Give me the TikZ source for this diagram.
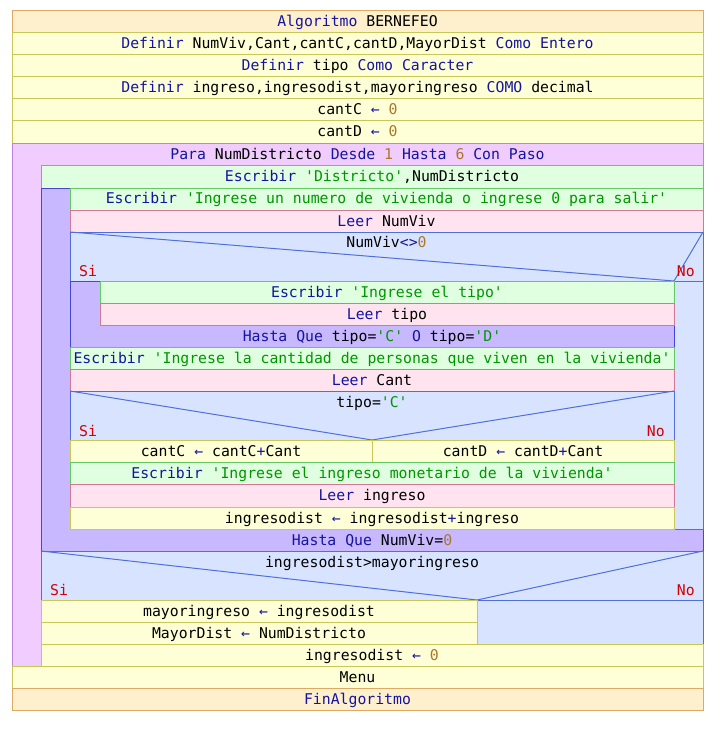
\documentclass[tikz,border=0pt]{standalone}
\usepackage{fontspec}
\newfontfamily\psfont{DejaVu Sans Mono}

\definecolor{fondoIni}{RGB}{255,240,205}
\definecolor{bordeIni}{RGB}{220,170,100}
\definecolor{fondoAsig}{RGB}{255,255,215}
\definecolor{bordeAsig}{RGB}{200,200,90}
\definecolor{fondoPara}{RGB}{240,204,255}
\definecolor{bordePara}{RGB}{190,130,225}
\definecolor{fondoEsc}{RGB}{224,255,224}
\definecolor{bordeEsc}{RGB}{100,200,100}
\definecolor{fondoLeer}{RGB}{255,228,240}
\definecolor{bordeLeer}{RGB}{210,120,150}
\definecolor{fondoRep}{RGB}{200,184,255}
\definecolor{bordeRep}{RGB}{70,70,210}
\definecolor{fondoSi}{RGB}{216,228,255}
\definecolor{bordeSi}{RGB}{80,110,220}
\definecolor{clave}{RGB}{20,20,160}
\definecolor{numero}{RGB}{170,120,40}
\definecolor{cadena}{RGB}{0,150,0}
\definecolor{rojoSiNo}{RGB}{210,0,0}

\newcommand{\pc}[1]{\textcolor{clave}{#1}}
\newcommand{\nume}[1]{\textcolor{numero}{#1}}
\newcommand{\cad}[1]{\textcolor{cadena}{#1}}

\tikzset{
  caja/.style={line width=1pt},
  inicio/.style={caja, draw=bordeIni, fill=fondoIni},
  asig/.style={caja, draw=bordeAsig, fill=fondoAsig},
  para/.style={caja, draw=bordePara, fill=fondoPara},
  escribir/.style={caja, draw=bordeEsc, fill=fondoEsc},
  leer/.style={caja, draw=bordeLeer, fill=fondoLeer},
  repetir/.style={caja, draw=bordeRep, fill=fondoRep},
  si/.style={caja, draw=bordeSi, fill=fondoSi},
  diag/.style={caja, draw=bordeSi},
  texto/.style={anchor=base, inner sep=0pt, font=\psfont\fontsize{14.8}{18}\selectfont},
  rama/.style={texto, text=rojoSiNo},
}

% name, style, x1, y1, x2, y2, text
\newcommand{\fila}[7]{%
  \draw[#2] (#3,#4) rectangle (#5,#6);
  \node[texto] (#1) at ({(#3+#5)/2},{#4+16}) {#7};
}

\begin{document}
\begin{tikzpicture}[x=1pt,y=-1pt]
\useasboundingbox (0,0) rectangle (723,730);
% Encabezado
\fila{alg}{inicio}{12}{11}{703}{33}{\pc{Algoritmo} BERNEFEO}
\fila{def1}{asig}{12}{33}{703}{55}{\pc{Definir} NumViv,Cant,cantC,cantD,MayorDist \pc{Como Entero}}
\fila{def2}{asig}{12}{55}{703}{77}{\pc{Definir} tipo \pc{Como Caracter}}
\fila{def3}{asig}{12}{77}{703}{99}{\pc{Definir} ingreso,ingresodist,mayoringreso \pc{COMO} decimal}
\fila{ini1}{asig}{12}{99}{703}{121}{cantC \pc{←} \nume{0}}
\fila{ini2}{asig}{12}{121}{703}{144}{cantD \pc{←} \nume{0}}
% Para
\draw[para] (12,144) rectangle (703,666);
\node[texto] (para) at (357.5,160) {\pc{Para} NumDistricto \pc{Desde} \nume{1} \pc{Hasta} \nume{6} \pc{Con Paso}};
\fila{esc1}{escribir}{41}{166}{703}{188}{\pc{Escribir} \cad{'Districto'},NumDistricto}
% Repetir exterior
\draw[repetir] (41,188) rectangle (703,551);
\node[texto] (hasta1) at (372,545) {\pc{Hasta Que} NumViv=\nume{0}};
\fila{esc2}{escribir}{70}{188}{703}{210}{\pc{Escribir} \cad{'Ingrese un numero de vivienda o ingrese 0 para salir'}}
\fila{leer1}{leer}{70}{210}{703}{232}{\pc{Leer} NumViv}
% Si NumViv<>0
\draw[si] (70,232) rectangle (703,529);
\draw[diag] (70,232) -- (674,281) -- (703,232);
\draw[diag] (70,281) -- (703,281);
\node[texto] (cond1) at (386.5,247) {NumViv\pc{<>}\nume{0}};
\node[rama, anchor=base west] (si1) at (79,276) {Si};
\node[rama, anchor=base east] (no1) at (695,276) {No};
% Repetir interior
\draw[repetir] (70,281) rectangle (674,347);
\node[texto] (hasta2) at (372,341) {\pc{Hasta Que} tipo=\cad{'C'} \pc{O} tipo=\cad{'D'}};
\fila{esc3}{escribir}{100}{281}{674}{303}{\pc{Escribir} \cad{'Ingrese el tipo'}}
\fila{leer2}{leer}{100}{303}{674}{325}{\pc{Leer} tipo}
\fila{esc4}{escribir}{70}{347}{674}{369}{\pc{Escribir} \cad{'Ingrese la cantidad de personas que viven en la vivienda'}}
\fila{leer3}{leer}{70}{369}{674}{391}{\pc{Leer} Cant}
% Si tipo='C'
\draw[si] (70,391) rectangle (674,440);
\draw[diag] (70,391) -- (372,440) -- (674,391);
\node[texto] (cond2) at (372,407) {tipo=\cad{'C'}};
\node[rama, anchor=base west] (si2) at (79,436) {Si};
\node[rama, anchor=base east] (no2) at (665,436) {No};
\fila{sumC}{asig}{70}{440}{372}{462}{cantC \pc{←} cantC\pc{+}Cant}
\fila{sumD}{asig}{372}{440}{674}{462}{cantD \pc{←} cantD\pc{+}Cant}
\fila{esc5}{escribir}{70}{462}{674}{484}{\pc{Escribir} \cad{'Ingrese el ingreso monetario de la vivienda'}}
\fila{leer4}{leer}{70}{484}{674}{507}{\pc{Leer} ingreso}
\fila{acum}{asig}{70}{507}{674}{529}{ingresodist \pc{←} ingresodist\pc{+}ingreso}
% Si ingresodist>mayoringreso
\draw[si] (41,551) rectangle (703,644);
\draw[diag] (41,551) -- (477,600) -- (703,551);
\draw[diag] (41,600) -- (703,600);
\node[texto] (cond3) at (372,567) {ingresodist>mayoringreso};
\node[rama, anchor=base west] (si3) at (50,595) {Si};
\node[rama, anchor=base east] (no3) at (695,595) {No};
\fila{may1}{asig}{41}{600}{477}{622}{mayoringreso \pc{←} ingresodist}
\fila{may2}{asig}{41}{622}{477}{644}{MayorDist \pc{←} NumDistricto}
\fila{reset}{asig}{41}{644}{703}{666}{ingresodist \pc{←} \nume{0}}
% Final
\fila{menu}{asig}{12}{666}{703}{688}{Menu}
\fila{fin}{inicio}{12}{688}{703}{710}{\pc{FinAlgoritmo}}
\end{tikzpicture}
\end{document}
